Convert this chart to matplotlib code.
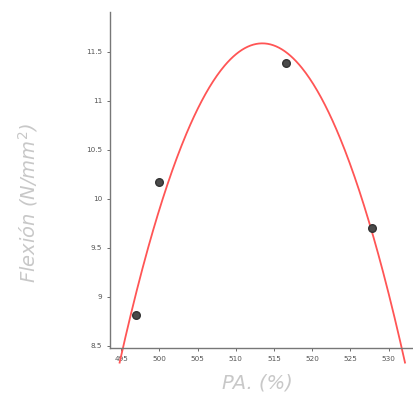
import numpy as np
import matplotlib.pyplot as plt

# data
pa = [496.9, 500.0, 516.6, 527.85]
flexion = [8.82, 10.17, 11.39, 9.70]

xticks = [495, 500, 505, 510, 515, 520, 525, 530]
yticks = [8.5, 9, 9.5, 10, 10.5, 11, 11.5]
ytick_labels = ['8.5', '9', '9.5', '10', '10.5', '11', '11.5']

# quadratic trend line, drawn down to a little below the x axis
coef = np.polyfit(pa, flexion, 2)
ends = np.sort(np.roots(coef - np.array([0, 0, 8.33])).real)
xs = np.linspace(ends[0], ends[1], 300)
ys = np.polyval(coef, xs)

fig = plt.figure(figsize=(4.13, 3.94), dpi=100)
ax = fig.add_axes([0.266, 0.117, 0.732, 0.853])

ax.plot(xs, ys, color='#ff5555', lw=1.3, clip_on=False, zorder=2)
ax.scatter(pa, flexion, s=30, color='#4a4a4a', edgecolors='#333333', zorder=3)

ax.set_xlim(493.5, 533.1)
ax.set_ylim(8.48, 11.91)
ax.set_xticks(xticks)
ax.set_yticks(yticks)
ax.set_yticklabels(ytick_labels)

for s in ['top', 'right']:
    ax.spines[s].set_visible(False)
for s in ['left', 'bottom']:
    ax.spines[s].set_color('#777777')
    ax.spines[s].set_linewidth(1.0)
ax.tick_params(labelsize=5.2, colors='#555555', length=2, width=0.6)

ax.set_xlabel('PA. (%)', fontsize=14, style='italic', color='#c8c8c8')
ax.set_ylabel('Flexión (N/mm$^2$)', fontsize=14, style='italic', color='#c8c8c8')
ax.xaxis.set_label_coords(0.487, -0.075)
ax.yaxis.set_label_coords(-0.232, 0.43)

fig.savefig('out.png', dpi=100)
